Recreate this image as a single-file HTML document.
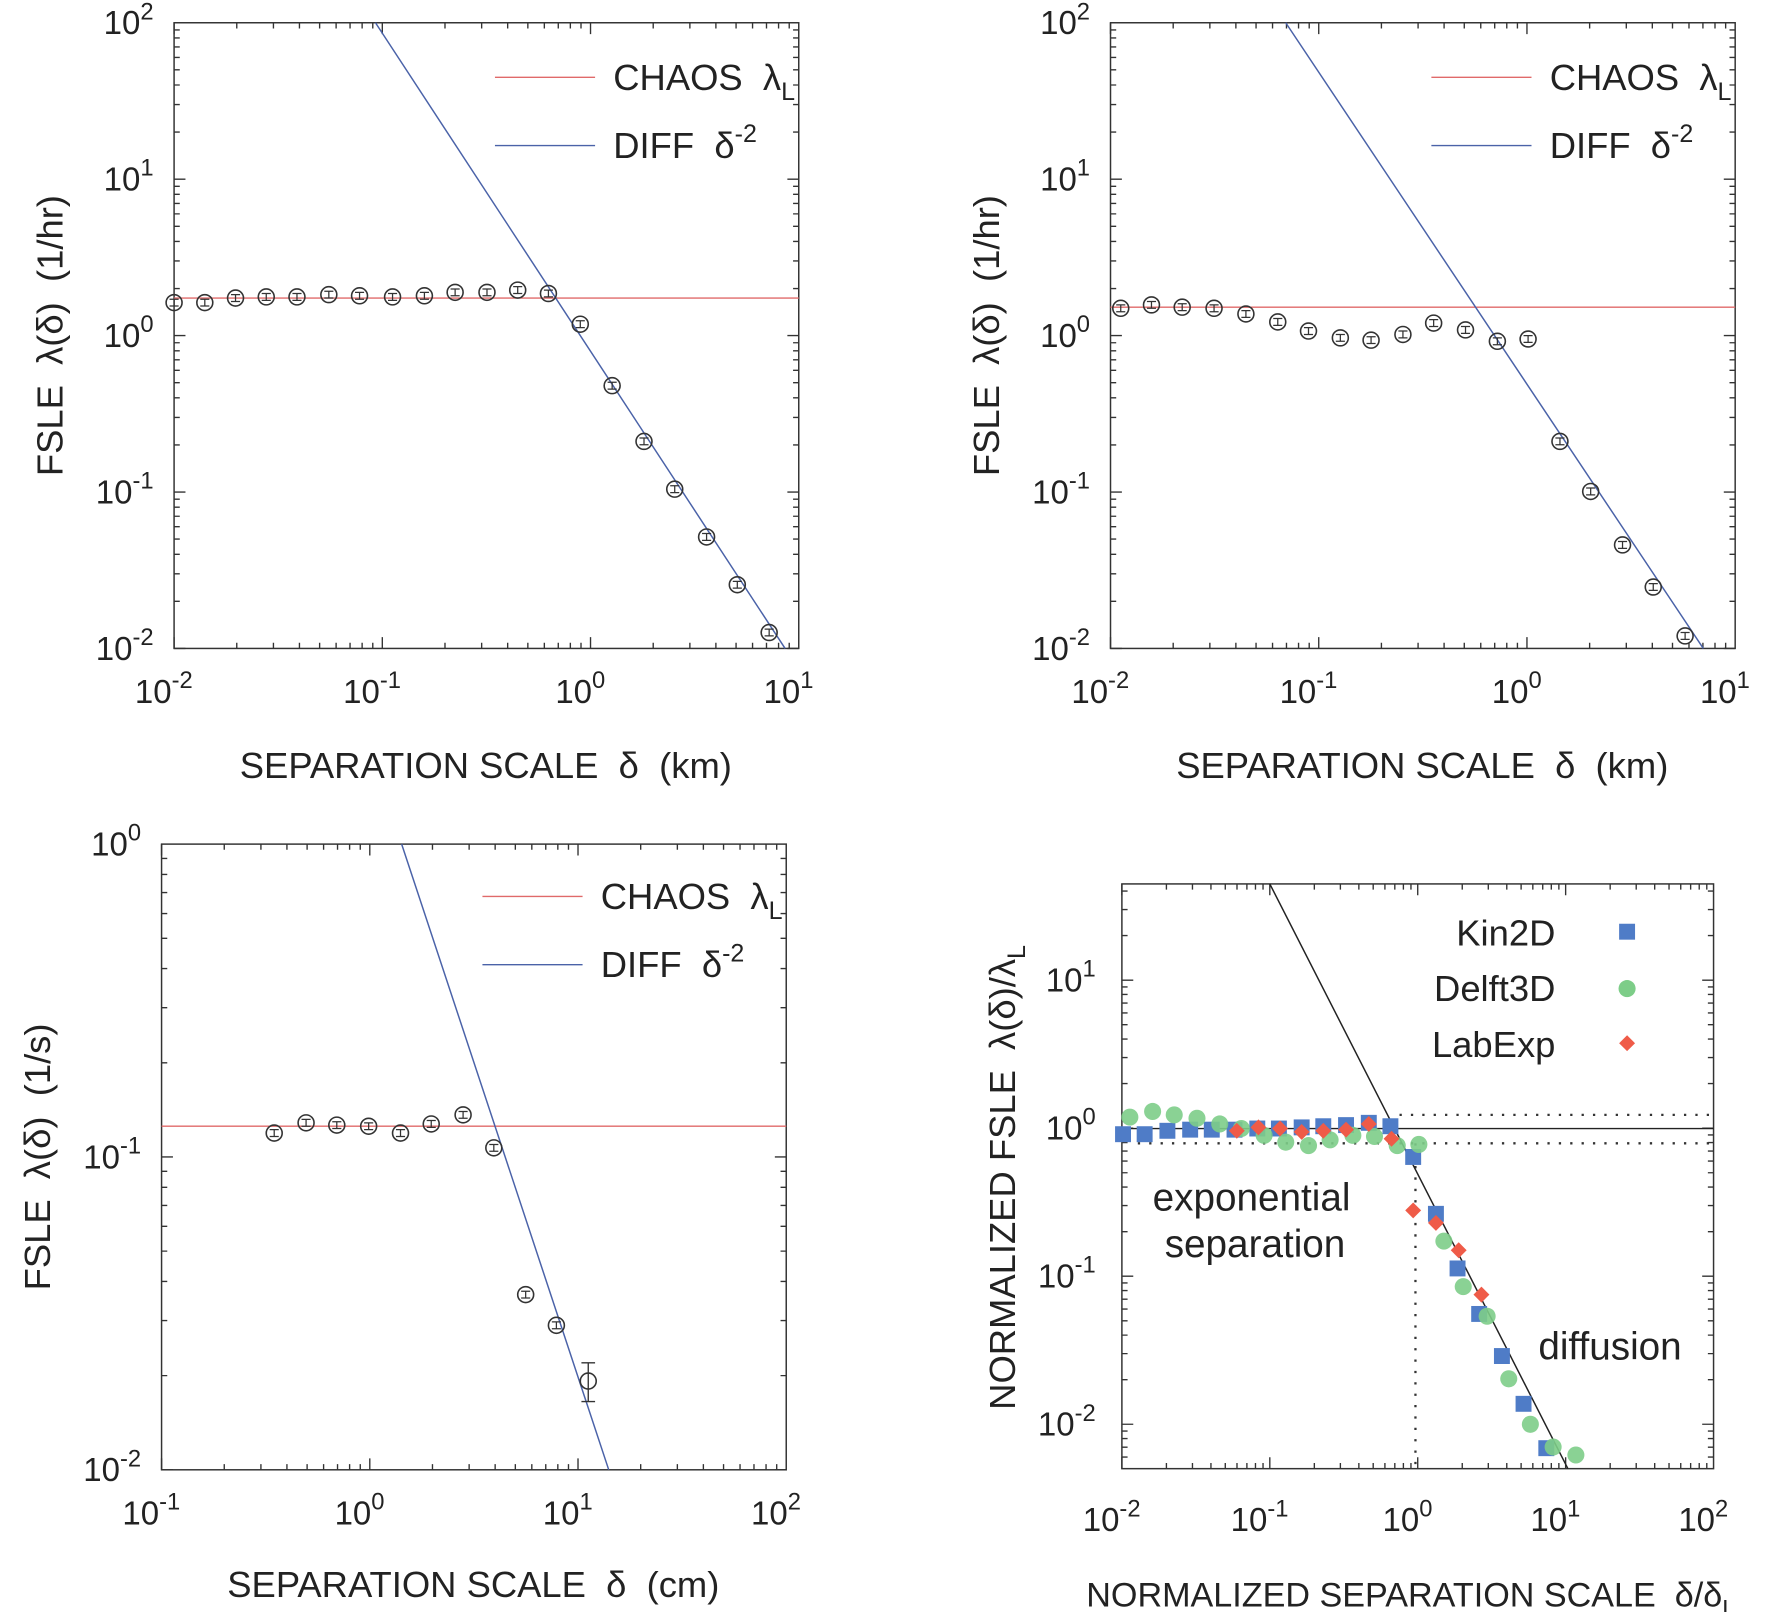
<!DOCTYPE html>
<html><head><meta charset="utf-8"><style>
html,body{margin:0;padding:0;background:#fff}
svg{display:block}
text{font-family:"Liberation Sans",sans-serif;fill:#222}
</style></head><body>
<svg id="s" width="1775" height="1612" viewBox="0 0 1560 1417" preserveAspectRatio="none" xmlns="http://www.w3.org/2000/svg">
<rect width="1560" height="1417" fill="#fff"/>
</svg>
<script>
const S=document.getElementById('s'),NS='http://www.w3.org/2000/svg';
function el(t,a,txt){const e=document.createElementNS(NS,t);for(const k in a)e.setAttribute(k,a[k]);if(txt!==undefined)e.textContent=txt;S.appendChild(e);return e;}
function sup(x,y,base,exp,anchor,size){const t=el('text',{x:x,y:y,'text-anchor':anchor,'font-size':size});
 const a=document.createElementNS(NS,'tspan');a.textContent=base;t.appendChild(a);
 const b=document.createElementNS(NS,'tspan');b.setAttribute('dy',-size*0.45);b.setAttribute('font-size',size*0.72);b.textContent=exp;t.appendChild(b);return t;}
function panel(c){
 const X=v=>c.x0+(v-c.xmin)/(c.xmax-c.xmin)*(c.x1-c.x0);
 const Y=v=>c.y1-(v-c.ymin)/(c.ymax-c.ymin)*(c.y1-c.y0);
 c.X=X;c.Y=Y;
 el('rect',{x:c.x0,y:c.y0,width:c.x1-c.x0,height:c.y1-c.y0,fill:'none',stroke:'#333','stroke-width':1.3});
 let d='';
 for(let e=Math.floor(c.xmin);e<c.xmax;e++)for(let m=1;m<10;m++){const v=e+Math.log10(m);if(v<c.xmin-1e-9||v>c.xmax+1e-9)continue;const L=m==1?10:5,x=X(v);d+=`M${x} ${c.y1}v${-L}M${x} ${c.y0}v${L}`;}
 for(let e=Math.floor(c.ymin);e<c.ymax;e++)for(let m=1;m<10;m++){const v=e+Math.log10(m);if(v<c.ymin-1e-9||v>c.ymax+1e-9)continue;const L=m==1?10:5,y=Y(v);d+=`M${c.x0} ${y}h${L}M${c.x1} ${y}h${-L}`;}
 el('path',{d:d,stroke:'#333','stroke-width':1.2,fill:'none'});
 for(let e=Math.ceil(c.xmin);e<=c.xmax;e++)sup(X(e)-9,c.xl,'10',String(e),'middle',29);
 for(let e=Math.ceil(c.ymin);e<=c.ymax;e++)sup(c.yl,Y(e)+10,'10',String(e),'end',29);
 const ty=el('text',{x:0,y:0,'font-size':32,'text-anchor':'middle',transform:`translate(${c.ytx},${c.yty}) rotate(-90)`});
 ty.innerHTML=c.ytitle;
 const tx=el('text',{x:c.xtx,y:c.xty,'font-size':c.xfs||32,'text-anchor':'middle'});tx.innerHTML=c.xtitle;
 return c;
}
function legend(lx,ly1,ly2){
 el('line',{x1:lx,y1:ly1,x2:lx+88,y2:ly1,stroke:'#e06a6a','stroke-width':1.2});
 el('line',{x1:lx,y1:ly2,x2:lx+88,y2:ly2,stroke:'#4a62a8','stroke-width':1.2});
 const a=el('text',{x:lx+104,y:ly1+11,'font-size':32});a.innerHTML='CHAOS&#160;&#160;λ<tspan font-size="22" dy="9">L</tspan>';
 const b=el('text',{x:lx+104,y:ly2+11,'font-size':32});b.innerHTML='DIFF&#160;&#160;δ<tspan font-size="22" dy="-14">-2</tspan>';
}
function circ(x,y,r){el('circle',{cx:x,cy:y,r:r||7,fill:'none',stroke:'#333','stroke-width':1.4});
 el('path',{d:`M${x-4} ${y-3}h8M${x} ${y-3}v6M${x-4} ${y+3}h8`,stroke:'#333','stroke-width':1.1,fill:'none'});}
function clipLine(c,x1,y1,x2,y2,col){el('line',{x1,y1,x2,y2,stroke:col,'stroke-width':1.3});}

// Panel 1
let p=panel({x0:153,x1:702,y0:20,y1:570,xmin:-2,xmax:1,ymin:-2,ymax:2,xl:618,yl:135,ytx:55,yty:295,xtx:427,xty:684,
 ytitle:'FSLE&#160;&#160;λ(δ)&#160;&#160;(1/hr)',xtitle:'SEPARATION SCALE&#160;&#160;δ&#160;&#160;(km)'});
el('line',{x1:153,y1:262,x2:702,y2:262,stroke:'#e06a6a','stroke-width':1.2});
clipLine(p,330,20,690,570,'#4a62a8');
legend(435,68,128);
[[153,266],[180,266],[207,262],[234,261],[261,261],[289,259],[316,260],[345,261],[373,260],[400,257],[428,257],[455,255],[482,258],[510,285],[538,339],[566,388],[593,430],[621,472],[648,514],[676,556]].forEach(q=>circ(q[0],q[1]));

// Panel 2
p=panel({x0:976,x1:1525,y0:20,y1:570,xmin:-2,xmax:1,ymin:-2,ymax:2,xl:618,yl:958,ytx:878,yty:295,xtx:1250,xty:684,
 ytitle:'FSLE&#160;&#160;λ(δ)&#160;&#160;(1/hr)',xtitle:'SEPARATION SCALE&#160;&#160;δ&#160;&#160;(km)'});
el('line',{x1:976,y1:270,x2:1525,y2:270,stroke:'#e06a6a','stroke-width':1.2});
clipLine(p,1130,20,1497,570,'#4a62a8');
legend(1258,68,128);
[[985,271],[1012,268],[1039,270],[1067,271],[1095,276],[1123,283],[1150,291],[1178,297],[1205,299],[1233,294],[1260,284],[1288,290],[1316,300],[1343,298],[1371,388],[1398,432],[1426,479],[1453,516],[1481,559]].forEach(q=>circ(q[0],q[1]));

// Panel 3
p=panel({x0:142,x1:691,y0:742,y1:1292,xmin:-1,xmax:2,ymin:-2,ymax:0,xl:1340,yl:124,ytx:44,yty:1017,xtx:416,xty:1404,
 ytitle:'FSLE&#160;&#160;λ(δ)&#160;&#160;(1/s)',xtitle:'SEPARATION SCALE&#160;&#160;δ&#160;&#160;(cm)'});
el('line',{x1:142,y1:990,x2:691,y2:990,stroke:'#e06a6a','stroke-width':1.2});
clipLine(p,353,742,535,1292,'#4a62a8');
legend(424,788,848);
[[241,996],[269,987],[296,989],[324,990],[352,996],[379,988],[407,980],[434,1009],[462,1138],[489,1165]].forEach(q=>circ(q[0],q[1]));
el('circle',{cx:517,cy:1214,r:7,fill:'none',stroke:'#333','stroke-width':1.4});
el('path',{d:'M511 1198h12M517 1198v34M511 1232h12',stroke:'#333','stroke-width':1.2,fill:'none'});

// Panel 4
p=panel({x0:986,x1:1506,y0:777,y1:1291,xmin:-2,xmax:2,ymin:-2.3,ymax:1.65,xl:1346,yl:963,ytx:892,yty:1035,xtx:1240,xty:1412,xfs:30,
 ytitle:'NORMALIZED FSLE&#160;&#160;λ(δ)/λ<tspan font-size="22" dy="9">L</tspan>',xtitle:'NORMALIZED SEPARATION SCALE&#160;&#160;δ/δ<tspan font-size="21" dy="9">L</tspan>'});
el('line',{x1:986,y1:992,x2:1506,y2:992,stroke:'#222','stroke-width':1.2});
el('line',{x1:1230,y1:980,x2:1506,y2:980,stroke:'#333','stroke-width':2,'stroke-dasharray':'2 8'});
el('line',{x1:1000,y1:1005,x2:1506,y2:1005,stroke:'#333','stroke-width':2,'stroke-dasharray':'2 8'});
el('line',{x1:1244,y1:1005,x2:1244,y2:1291,stroke:'#333','stroke-width':2,'stroke-dasharray':'2 8'});
el('line',{x1:1116,y1:777,x2:1378,y2:1291,stroke:'#222','stroke-width':1.3});
const dx=-4,dy=-6;
[[991,1003],[1010,1003],[1030,1000],[1050,999],[1069,999],[1089,999],[1109,998],[1128,998],[1148,997],[1167,996],[1187,995],[1207,993],[1226,996],[1246,1023],[1266,1073],[1285,1121],[1304,1161],[1324,1198],[1343,1240],[1363,1279]].forEach(q=>el('rect',{x:q[0]+dx-7,y:q[1]+dy-7,width:14,height:14,fill:'#4f7cc7'}));
[[997,988],[1017,983],[1036,986],[1056,989],[1076,994],[1095,998],[1115,1004],[1134,1010],[1154,1013],[1173,1008],[1193,1004],[1212,1005],[1232,1013],[1251,1012],[1273,1097],[1290,1137],[1311,1163],[1330,1218],[1349,1258],[1369,1278],[1389,1285]].forEach(q=>el('circle',{cx:q[0]+dx,cy:q[1]+dy,r:7.5,fill:'#7dcd88','fill-opacity':0.9}));
[[1091,1000],[1110,997],[1129,998],[1148,1001],[1167,1000],[1187,999],[1207,994],[1227,1007],[1246,1070],[1266,1081],[1286,1105],[1306,1144]].forEach(q=>{const x=q[0]+dx,y=q[1]+dy;el('path',{d:`M${x} ${y-7}L${x+7} ${y}L${x} ${y+7}L${x-7} ${y}Z`,fill:'#ef5b48'});});
el('text',{x:1367,y:831,'font-size':32,'text-anchor':'end'},'Kin2D');
el('rect',{x:1423,y:812,width:14,height:14,fill:'#4f7cc7'});
el('text',{x:1367,y:880,'font-size':32,'text-anchor':'end'},'Delft3D');
el('circle',{cx:1430,cy:869,r:7.5,fill:'#7dcd88'});
el('text',{x:1367,y:929,'font-size':32,'text-anchor':'end'},'LabExp');
el('path',{d:'M1430 910L1437 917L1430 924L1423 917Z',fill:'#ef5b48'});
el('text',{x:1100,y:1064,'font-size':34,'text-anchor':'middle'},'exponential');
el('text',{x:1103,y:1105,'font-size':34,'text-anchor':'middle'},'separation');
el('text',{x:1415,y:1195,'font-size':34,'text-anchor':'middle'},'diffusion');
</script>
</body></html>
